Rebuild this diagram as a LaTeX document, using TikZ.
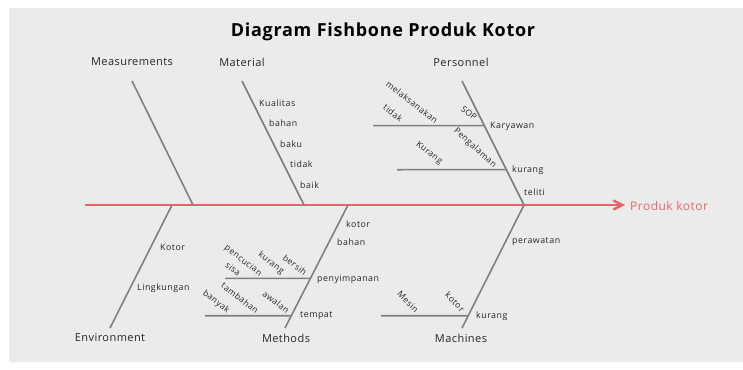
\documentclass[tikz,border=0pt]{standalone}
\usepackage{fontspec}
\setmainfont{Open Sans}
\newfontfamily\labelfont[LetterSpace=6]{Open Sans}
\newfontfamily\headfont[LetterSpace=4]{Open Sans}
\usetikzlibrary{arrows.meta}
\definecolor{bgGray}{HTML}{EBEBEB}
\definecolor{boneGray}{HTML}{808080}
\definecolor{spineRed}{HTML}{E8646A}
\definecolor{txtGray}{HTML}{262626}

\begin{document}
\begin{tikzpicture}[x=1pt, y=-1pt,
  bone/.style={draw=boneGray, line width=1.6pt},
  spine/.style={draw=spineRed, line width=2.4pt, -{Straight Barb[length=9pt,width=9pt]}},
  cat/.style={font=\headfont\fontsize{11}{13}\selectfont, text=txtGray, inner sep=0pt},
  lbl/.style={font=\labelfont\fontsize{8.8}{10}\selectfont, text=txtGray, inner sep=0pt, anchor=west},
  tilt/.style={font=\labelfont\fontsize{8.5}{10}\selectfont, text=txtGray, inner sep=0pt, rotate=-38}
]
\useasboundingbox (0,0) rectangle (743,369);
\fill[bgGray] (9,8) rectangle (743,362);

\node[font=\headfont\fontsize{18}{21}\selectfont\bfseries, text=black] (title) at (383,32) {Diagram Fishbone Produk Kotor};

% spine and head
\coordinate (tail) at (85,205);
\coordinate (head) at (625,205);
\draw[spine] (tail) -- (head);
\node[font=\headfont\fontsize{12}{14}\selectfont, text=spineRed, anchor=west, inner sep=0pt] (effect) at (630,206) {Produk kotor};

% main bones
\coordinate (meas-t) at (132,81);  \coordinate (meas-b) at (193,205);
\coordinate (mat-t)  at (242,81);  \coordinate (mat-b)  at (304,205);
\coordinate (pers-t) at (462,81);  \coordinate (pers-b) at (524,205);
\coordinate (env-t)  at (172,205); \coordinate (env-b)  at (110,328);
\coordinate (meth-t) at (348,205); \coordinate (meth-b) at (285,328);
\coordinate (mach-t) at (524,205); \coordinate (mach-b) at (462,328);
\draw[bone] (meas-t) -- (meas-b);
\draw[bone] (mat-t) -- (mat-b);
\draw[bone] (pers-t) -- (pers-b);
\draw[bone] (env-t) -- (env-b);
\draw[bone] (meth-t) -- (meth-b);
\draw[bone] (mach-t) -- (mach-b);

% category names
\node[cat] (measurements) at (132,62) {Measurements};
\node[cat] (material) at (242,62) {Material};
\node[cat] (personnel) at (461,62) {Personnel};
\node[cat] (environment) at (110,338) {Environment};
\node[cat] (methods) at (286,338) {Methods};
\node[cat] (machines) at (461,338) {Machines};

% twigs
\path (pers-t) -- (pers-b) coordinate[pos=0.36] (kar-r) coordinate[pos=0.715] (tel-r);
\path (meth-t) -- (meth-b) coordinate[pos=0.596] (sim-r) coordinate[pos=0.9] (tem-r);
\path (mach-t) -- (mach-b) coordinate[pos=0.9] (mes-r);
\coordinate (kar-l) at (373,125.6);
\coordinate (tel-l) at (397,169.7);
\coordinate (sim-l) at (225,278.3);
\coordinate (tem-l) at (205,315.7);
\coordinate (mes-l) at (381,315.7);
\draw[bone] (kar-l) -- (kar-r);
\draw[bone] (tel-l) -- (tel-r);
\draw[bone] (sim-l) -- (sim-r);
\draw[bone] (tem-l) -- (tem-r);
\draw[bone] (mes-l) -- (mes-r);

% Material
\node[lbl] (mat1) at (259,103) {Kualitas};
\node[lbl] (mat2) at (269,123) {bahan};
\node[lbl] (mat3) at (280,144) {baku};
\node[lbl] (mat4) at (290,164) {tidak};
\node[lbl] (mat5) at (300,185) {baik};

% Personnel
\node[lbl] (pers1) at (490,126) {Karyawan};
\node[lbl] (pers2) at (512,170) {kurang};
\node[lbl] (pers3) at (524,192) {teliti};
\node[tilt] (pers4) at (412,102) {melaksanakan};
\node[tilt] (pers5) at (393,113) {tidak};
\node[tilt] (pers6) at (469,113) {SOP};
\node[tilt, rotate=-4] (pers7) at (475,148) {Pengalaman};
\node[tilt] (pers8) at (429,153) {Kurang};

% Environment
\node[lbl] (env1) at (160,247) {Kotor};
\node[lbl] (env2) at (137,288) {Lingkungan};

% Methods
\node[lbl] (meth1) at (346,224) {kotor};
\node[lbl] (meth2) at (337,242) {bahan};
\node[lbl] (meth3) at (317,279) {penyimpanan};
\node[lbl] (meth4) at (300,316) {tempat};
\node[tilt] (meth5) at (243,261) {pencucian};
\node[tilt] (meth6) at (233,269) {sisa};
\node[tilt] (meth7) at (271,263) {kurang};
\node[tilt] (meth8) at (295,265) {bersih};
\node[tilt] (meth9) at (240,298) {tambahan};
\node[tilt] (meth10) at (216,302) {banyak};
\node[tilt] (meth11) at (276,302) {awalan};

% Machines
\node[lbl] (mach1) at (512,242) {perawatan};
\node[lbl] (mach2) at (476,316) {kurang};
\node[tilt, rotate=-8] (mach3) at (408,302) {Mesin};
\node[tilt, rotate=-8] (mach4) at (455,302) {kotor};
\end{tikzpicture}
\end{document}
